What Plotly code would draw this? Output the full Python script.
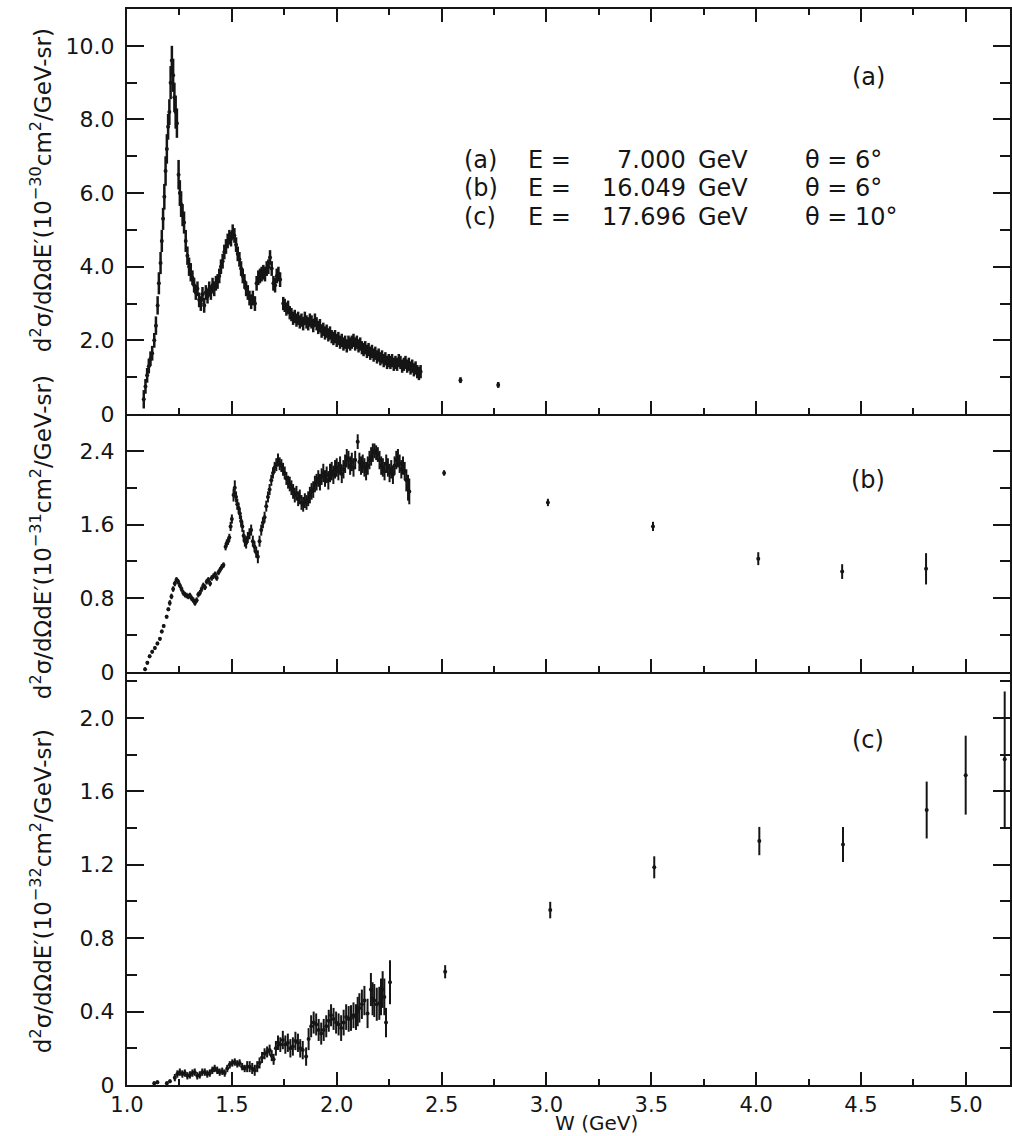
import plotly.graph_objects as go

# ---------------- data ----------------
# Panel (a): E = 7.000 GeV, theta = 6 deg, units 1e-30 cm^2/GeV-sr
W_a = [1.080, 1.088, 1.096, 1.104, 1.112, 1.120, 1.130, 1.138, 1.146, 1.152,
       1.160, 1.166, 1.172, 1.178, 1.184, 1.190, 1.196, 1.202, 1.208, 1.214,
       1.220, 1.226, 1.232, 1.238, 1.246, 1.252, 1.258, 1.265, 1.272, 1.280,
       1.288, 1.296, 1.304, 1.312, 1.320, 1.328, 1.336, 1.344, 1.352, 1.360,
       1.368, 1.376, 1.384, 1.392, 1.400, 1.408, 1.416, 1.424, 1.432, 1.440,
       1.448, 1.456, 1.464, 1.472, 1.480, 1.488, 1.496, 1.504, 1.512, 1.520,
       1.528, 1.536, 1.544, 1.552, 1.560, 1.568, 1.576, 1.584, 1.592, 1.600,
       1.610, 1.618, 1.626, 1.634, 1.642, 1.650, 1.658, 1.666, 1.674, 1.682,
       1.690, 1.698, 1.706, 1.714, 1.722, 1.730, 1.745, 1.752, 1.760, 1.768,
       1.776, 1.784, 1.792, 1.800, 1.808, 1.816, 1.824, 1.832, 1.840, 1.848,
       1.856, 1.864, 1.872, 1.880, 1.888, 1.896, 1.904, 1.912, 1.920, 1.928,
       1.936, 1.944, 1.952, 1.960, 1.968, 1.976, 1.984, 1.992, 2.000, 2.008,
       2.016, 2.024, 2.032, 2.040, 2.048, 2.056, 2.064, 2.072, 2.080, 2.088,
       2.096, 2.104, 2.112, 2.120, 2.128, 2.136, 2.144, 2.152, 2.160, 2.168,
       2.176, 2.184, 2.192, 2.200, 2.208, 2.216, 2.224, 2.232, 2.240, 2.248,
       2.256, 2.264, 2.272, 2.280, 2.288, 2.296, 2.304, 2.312, 2.320, 2.328,
       2.336, 2.344, 2.352, 2.360, 2.368, 2.376, 2.384, 2.392, 2.400, 2.590,
       2.770]
Y_a = [0.40, 0.75, 1.05, 1.30, 1.50, 1.65, 2.00, 2.40, 2.95, 3.55,
       4.10, 4.70, 5.30, 5.90, 6.60, 7.20, 7.80, 8.20, 9.00, 9.60,
       9.20, 8.60, 8.20, 7.90, 6.50, 6.00, 5.70, 5.40, 5.20, 4.70,
       4.30, 4.00, 3.85, 3.70, 3.50, 3.30, 3.40, 3.10, 3.00, 3.25,
       2.95, 3.30, 3.20, 3.40, 3.30, 3.50, 3.40, 3.55, 3.60, 3.75,
       4.00, 4.15, 4.40, 4.55, 4.70, 4.80, 4.75, 4.95, 4.85, 4.60,
       4.35, 4.20, 3.95, 3.75, 3.60, 3.40, 3.30, 3.15, 3.05, 3.15,
       3.00, 3.55, 3.70, 3.75, 3.80, 3.85, 3.80, 3.95, 4.00, 4.25,
       3.95, 3.55, 3.50, 3.75, 3.80, 3.65, 3.00, 2.95, 2.85, 2.90,
       2.75, 2.70, 2.60, 2.65, 2.55, 2.60, 2.50, 2.55, 2.45, 2.60,
       2.50, 2.45, 2.55, 2.50, 2.40, 2.55, 2.45, 2.35, 2.40, 2.25,
       2.30, 2.20, 2.25, 2.15, 2.20, 2.10, 2.05, 2.10, 2.00, 2.05,
       1.95, 2.00, 1.90, 1.95, 1.85, 1.95, 1.90, 1.95, 2.00, 1.90,
       1.95, 1.85, 1.90, 1.80, 1.75, 1.80, 1.70, 1.75, 1.65, 1.70,
       1.60, 1.65, 1.55, 1.60, 1.50, 1.55, 1.45, 1.50, 1.40, 1.45,
       1.40, 1.45, 1.35, 1.40, 1.35, 1.45, 1.40, 1.30, 1.35, 1.40,
       1.30, 1.35, 1.25, 1.30, 1.20, 1.25, 1.15, 1.10, 1.15, 0.92,
       0.79]
E_a = [0.25, 0.20, 0.20, 0.20, 0.20, 0.20, 0.20, 0.25, 0.25, 0.30,
       0.30, 0.30, 0.30, 0.35, 0.40, 0.40, 0.35, 0.35, 0.45, 0.40,
       0.45, 0.40, 0.45, 0.40, 0.40, 0.35, 0.35, 0.30, 0.30, 0.30,
       0.25, 0.25, 0.25, 0.20, 0.20, 0.20, 0.20, 0.20, 0.20, 0.20,
       0.20, 0.20, 0.20, 0.20, 0.20, 0.20, 0.20, 0.20, 0.20, 0.20,
       0.20, 0.20, 0.20, 0.20, 0.20, 0.20, 0.20, 0.20, 0.20, 0.20,
       0.20, 0.20, 0.20, 0.20, 0.20, 0.20, 0.20, 0.20, 0.20, 0.20,
       0.20, 0.20, 0.20, 0.20, 0.20, 0.20, 0.20, 0.20, 0.20, 0.20,
       0.20, 0.20, 0.20, 0.20, 0.20, 0.20, 0.18, 0.18, 0.18, 0.18,
       0.18, 0.18, 0.18, 0.18, 0.18, 0.18, 0.18, 0.18, 0.18, 0.18,
       0.18, 0.18, 0.18, 0.18, 0.18, 0.18, 0.18, 0.18, 0.18, 0.18,
       0.18, 0.18, 0.18, 0.18, 0.18, 0.18, 0.18, 0.18, 0.18, 0.18,
       0.18, 0.18, 0.18, 0.18, 0.18, 0.18, 0.18, 0.18, 0.18, 0.18,
       0.18, 0.18, 0.18, 0.18, 0.18, 0.18, 0.18, 0.18, 0.18, 0.18,
       0.18, 0.18, 0.18, 0.18, 0.18, 0.18, 0.18, 0.18, 0.18, 0.18,
       0.18, 0.18, 0.18, 0.18, 0.18, 0.18, 0.18, 0.18, 0.18, 0.18,
       0.18, 0.18, 0.18, 0.18, 0.18, 0.18, 0.18, 0.18, 0.18, 0.08,
       0.08]

# Panel (b): E = 16.049 GeV, theta = 6 deg, units 1e-31 cm^2/GeV-sr
W_b = [1.086, 1.097, 1.108, 1.120, 1.133, 1.145, 1.157, 1.166, 1.175, 1.189,
       1.197, 1.204, 1.212, 1.220, 1.228, 1.236, 1.244, 1.252, 1.260, 1.268,
       1.276, 1.284, 1.292, 1.300, 1.308, 1.316, 1.324, 1.332, 1.340, 1.348,
       1.356, 1.364, 1.372, 1.380, 1.388, 1.396, 1.404, 1.412, 1.420, 1.428,
       1.436, 1.444, 1.452, 1.460, 1.470, 1.476, 1.482, 1.488, 1.494, 1.500,
       1.508, 1.514, 1.520, 1.526, 1.532, 1.538, 1.544, 1.550, 1.556, 1.562,
       1.568, 1.576, 1.584, 1.592, 1.600, 1.608, 1.616, 1.624, 1.632, 1.640,
       1.648, 1.656, 1.664, 1.672, 1.680, 1.688, 1.696, 1.704, 1.712, 1.720,
       1.728, 1.736, 1.744, 1.752, 1.760, 1.768, 1.776, 1.784, 1.792, 1.800,
       1.808, 1.816, 1.824, 1.832, 1.840, 1.848, 1.856, 1.864, 1.872, 1.880,
       1.888, 1.896, 1.904, 1.912, 1.920, 1.928, 1.936, 1.944, 1.952, 1.960,
       1.968, 1.976, 1.984, 1.992, 2.000, 2.008, 2.016, 2.024, 2.032, 2.040,
       2.048, 2.056, 2.064, 2.072, 2.080, 2.088, 2.100, 2.108, 2.116, 2.124,
       2.132, 2.140, 2.148, 2.156, 2.164, 2.172, 2.180, 2.188, 2.196, 2.204,
       2.212, 2.220, 2.228, 2.236, 2.244, 2.252, 2.260, 2.268, 2.276, 2.284,
       2.292, 2.300, 2.308, 2.316, 2.324, 2.332, 2.340, 2.346, 2.512, 3.007,
       3.508, 4.010, 4.410, 4.810]
Y_b = [0.03, 0.10, 0.17, 0.22, 0.26, 0.31, 0.36, 0.44, 0.50, 0.60,
       0.68, 0.75, 0.82, 0.90, 0.96, 1.00, 0.98, 0.94, 0.90, 0.86,
       0.84, 0.83, 0.82, 0.83, 0.80, 0.78, 0.75, 0.78, 0.84, 0.86,
       0.90, 0.94, 0.92, 0.98, 1.00, 0.96, 1.02, 1.04, 1.06, 1.02,
       1.08, 1.11, 1.14, 1.16, 1.36, 1.40, 1.42, 1.46, 1.58, 1.66,
       1.92, 2.00, 1.90, 1.82, 1.78, 1.72, 1.64, 1.58, 1.48, 1.42,
       1.40, 1.46, 1.50, 1.54, 1.42, 1.36, 1.30, 1.25, 1.42, 1.54,
       1.62, 1.68, 1.80, 1.90, 1.98, 2.08, 2.16, 2.22, 2.25, 2.30,
       2.26, 2.24, 2.20, 2.16, 2.10, 2.06, 2.04, 2.00, 1.96, 1.92,
       1.94, 1.88, 1.90, 1.84, 1.82, 1.86, 1.84, 1.88, 1.92, 1.96,
       1.98, 2.04, 2.06, 2.10, 2.06, 2.12, 2.16, 2.10, 2.14, 2.08,
       2.16, 2.18, 2.14, 2.20, 2.22, 2.18, 2.24, 2.15, 2.20, 2.26,
       2.32, 2.30, 2.24, 2.28, 2.22, 2.30, 2.50, 2.28, 2.24, 2.26,
       2.22, 2.18, 2.24, 2.30, 2.34, 2.38, 2.40, 2.38, 2.36, 2.30,
       2.24, 2.22, 2.18, 2.26, 2.22, 2.16, 2.20, 2.14, 2.24, 2.30,
       2.32, 2.26, 2.20, 2.24, 2.18, 2.08, 2.00, 1.96, 2.16, 1.84,
       1.58, 1.23, 1.09, 1.12]
E_b = [0.02, 0.02, 0.02, 0.02, 0.02, 0.02, 0.02, 0.02, 0.02, 0.02,
       0.02, 0.03, 0.03, 0.03, 0.03, 0.03, 0.03, 0.03, 0.03, 0.03,
       0.03, 0.03, 0.03, 0.03, 0.03, 0.03, 0.03, 0.03, 0.03, 0.03,
       0.03, 0.03, 0.03, 0.03, 0.03, 0.03, 0.03, 0.03, 0.03, 0.03,
       0.03, 0.03, 0.03, 0.03, 0.04, 0.04, 0.04, 0.04, 0.05, 0.05,
       0.07, 0.08, 0.06, 0.06, 0.06, 0.06, 0.06, 0.06, 0.06, 0.06,
       0.06, 0.06, 0.06, 0.06, 0.06, 0.06, 0.06, 0.07, 0.06, 0.06,
       0.06, 0.06, 0.06, 0.06, 0.06, 0.06, 0.06, 0.06, 0.07, 0.07,
       0.07, 0.07, 0.07, 0.07, 0.07, 0.07, 0.08, 0.08, 0.08, 0.08,
       0.08, 0.08, 0.08, 0.08, 0.08, 0.08, 0.08, 0.08, 0.09, 0.09,
       0.09, 0.09, 0.09, 0.09, 0.09, 0.09, 0.10, 0.09, 0.09, 0.10,
       0.10, 0.10, 0.10, 0.10, 0.10, 0.10, 0.10, 0.10, 0.10, 0.10,
       0.10, 0.10, 0.10, 0.10, 0.10, 0.10, 0.08, 0.10, 0.10, 0.10,
       0.10, 0.10, 0.10, 0.10, 0.10, 0.10, 0.08, 0.08, 0.08, 0.10,
       0.10, 0.10, 0.10, 0.10, 0.10, 0.10, 0.10, 0.10, 0.10, 0.10,
       0.10, 0.10, 0.10, 0.10, 0.10, 0.12, 0.14, 0.14, 0.03, 0.04,
       0.05, 0.07, 0.08, 0.17]

# Panel (c): E = 17.696 GeV, theta = 10 deg, units 1e-32 cm^2/GeV-sr
W_c = [1.130, 1.145, 1.190, 1.205, 1.228, 1.240, 1.252, 1.264, 1.276, 1.288,
       1.300, 1.312, 1.323, 1.335, 1.347, 1.359, 1.371, 1.383, 1.395, 1.407,
       1.418, 1.430, 1.442, 1.454, 1.466, 1.478, 1.490, 1.502, 1.514, 1.526,
       1.537, 1.549, 1.561, 1.573, 1.585, 1.597, 1.609, 1.621, 1.632, 1.644,
       1.656, 1.668, 1.680, 1.690, 1.699, 1.710, 1.720, 1.731, 1.743, 1.755,
       1.767, 1.779, 1.791, 1.803, 1.815, 1.826, 1.838, 1.854, 1.866, 1.878,
       1.890, 1.902, 1.914, 1.926, 1.938, 1.950, 1.962, 1.973, 1.985, 1.997,
       2.009, 2.021, 2.033, 2.045, 2.057, 2.068, 2.080, 2.092, 2.100, 2.108,
       2.120, 2.132, 2.147, 2.163, 2.171, 2.179, 2.191, 2.203, 2.211, 2.219,
       2.227, 2.235, 2.254, 2.517, 3.018, 3.514, 4.015, 4.414, 4.813, 4.999,
       5.185]
Y_c = [0.010, 0.015, 0.010, 0.020, 0.040, 0.060, 0.070, 0.060, 0.065, 0.050,
       0.055, 0.065, 0.070, 0.050, 0.055, 0.070, 0.070, 0.060, 0.065, 0.080,
       0.090, 0.080, 0.070, 0.075, 0.065, 0.090, 0.110, 0.120, 0.125, 0.115,
       0.120, 0.100, 0.090, 0.100, 0.100, 0.090, 0.080, 0.100, 0.120, 0.150,
       0.170, 0.180, 0.190, 0.160, 0.140, 0.200, 0.230, 0.220, 0.245, 0.220,
       0.230, 0.200, 0.210, 0.240, 0.230, 0.200, 0.190, 0.155, 0.250, 0.320,
       0.340, 0.330, 0.300, 0.280, 0.300, 0.320, 0.350, 0.380, 0.360, 0.340,
       0.330, 0.310, 0.340, 0.370, 0.360, 0.365, 0.380, 0.370, 0.400, 0.420,
       0.440, 0.460, 0.390, 0.520, 0.470, 0.460, 0.440, 0.445, 0.480, 0.520,
       0.480, 0.340, 0.560, 0.617, 0.953, 1.186, 1.329, 1.310, 1.498, 1.688,
       1.774]
E_c = [0.010, 0.010, 0.010, 0.010, 0.020, 0.020, 0.020, 0.020, 0.020, 0.020,
       0.020, 0.020, 0.020, 0.020, 0.020, 0.020, 0.020, 0.020, 0.020, 0.020,
       0.020, 0.020, 0.020, 0.020, 0.020, 0.020, 0.020, 0.020, 0.020, 0.020,
       0.020, 0.020, 0.020, 0.030, 0.030, 0.030, 0.030, 0.030, 0.030, 0.030,
       0.030, 0.030, 0.030, 0.030, 0.030, 0.040, 0.040, 0.040, 0.050, 0.050,
       0.050, 0.050, 0.050, 0.050, 0.050, 0.050, 0.050, 0.050, 0.060, 0.060,
       0.060, 0.060, 0.060, 0.060, 0.060, 0.060, 0.060, 0.060, 0.060, 0.060,
       0.060, 0.070, 0.070, 0.070, 0.070, 0.070, 0.070, 0.070, 0.080, 0.080,
       0.080, 0.080, 0.080, 0.090, 0.090, 0.090, 0.090, 0.090, 0.100, 0.100,
       0.100, 0.080, 0.120, 0.036, 0.045, 0.060, 0.077, 0.095, 0.155, 0.215,
       0.370]

# tick labels
X_TICKS = [1.0, 1.5, 2.0, 2.5, 3.0, 3.5, 4.0, 4.5, 5.0]
X_TICKTEXT = ["1.0", "1.5", "2.0", "2.5", "3.0", "3.5", "4.0", "4.5", "5.0"]
YA_TICKS = [0, 2, 4, 6, 8, 10]
YA_TICKTEXT = ["0", "2.0", "4.0", "6.0", "8.0", "10.0"]
YB_TICKS = [0, 0.8, 1.6, 2.4]
YB_TICKTEXT = ["0", "0.8", "1.6", "2.4"]
YC_TICKS = [0, 0.4, 0.8, 1.2, 1.6, 2.0]
YC_TICKTEXT = ["0", "0.4", "0.8", "1.2", "1.6", "2.0"]

Y_TITLES = [
    "d<sup>2</sup>σ/dΩdE′(10<sup>−30</sup>cm<sup>2</sup>/GeV-sr)",
    "d<sup>2</sup>σ/dΩdE′(10<sup>−31</sup>cm<sup>2</sup>/GeV-sr)",
    "d<sup>2</sup>σ/dΩdE′(10<sup>−32</sup>cm<sup>2</sup>/GeV-sr)",
]
LEG_TAGS = ["(a)", "(b)", "(c)"]
LEG_E = ["7.000", "16.049", "17.696"]
LEG_THETA = ["θ = 6°", "θ = 6°", "θ = 10°"]
X_TITLE = "W (GeV)"

# ---------------- layout geometry ----------------
FW, FH = 1012, 1136
L, R, T, B = 127, 1012, 9, 1085
Y_AB, Y_BC = 414, 672
FONT = "DejaVu Sans"
INK = "#151515"


def px_x(px):
    return (px - L) / (R - L)


def px_y(py):
    return (B - py) / (B - T)


dom_c = [0, px_y(Y_BC)]
dom_b = [px_y(Y_BC), px_y(Y_AB)]
dom_a = [px_y(Y_AB), 1]

fig = go.Figure()


def add_panel(W, Y, E, xa, ya, thick):
    fig.add_trace(go.Scatter(
        x=W, y=Y, mode="markers", xaxis=xa, yaxis=ya,
        marker=dict(color=INK, size=4, symbol="circle"),
        error_y=dict(type="data", array=E, visible=True, color=INK,
                     thickness=thick, width=0),
        showlegend=False, hoverinfo="skip"))


add_panel(W_a, Y_a, E_a, "x3", "y3", 2.5)
add_panel(W_b, Y_b, E_b, "x2", "y2", 2)
add_panel(W_c, Y_c, E_c, "x", "y", 2)

XR = [1.0, 1.0 + (R - L) / 210.2]

xbase = dict(range=XR, showline=True, linewidth=2, linecolor=INK,
             ticks="inside", ticklen=13, tickwidth=2, tickcolor=INK,
             tickvals=X_TICKS, ticktext=X_TICKTEXT, showgrid=False,
             zeroline=False,
             minor=dict(ticks="inside", ticklen=6, tickwidth=2, tickcolor=INK,
                        tick0=1.25, dtick=0.5, showgrid=False),
             tickfont=dict(family=FONT, size=21, color=INK))

ybase = dict(showline=True, linewidth=2, linecolor=INK, mirror="ticks",
             ticks="inside", ticklen=17, tickwidth=2, tickcolor=INK,
             showgrid=False, zeroline=False, ticklabelstandoff=6,
             tickfont=dict(family=FONT, size=22, color=INK))

fig.update_layout(
    width=FW, height=FH, autosize=False,
    margin=dict(l=L, r=FW - R, t=T, b=FH - B, pad=0),
    paper_bgcolor="white", plot_bgcolor="white",
    font=dict(family=FONT, color=INK),
    xaxis=dict(xbase, anchor="y", domain=[0, 1], ticklabelstandoff=0),
    xaxis2=dict(xbase, anchor="y2", domain=[0, 1], showticklabels=False,
                matches="x"),
    xaxis3=dict(xbase, anchor="y3", domain=[0, 1], showticklabels=False,
                matches="x", mirror="ticks"),
    yaxis=dict(ybase, anchor="x", domain=dom_c, range=[0, 2.25],
               tickvals=YC_TICKS, ticktext=YC_TICKTEXT,
               minor=dict(ticks="inside", ticklen=10, tickwidth=2,
                          tickcolor=INK, tick0=0.2, dtick=0.4)),
    yaxis2=dict(ybase, anchor="x2", domain=dom_b, range=[0, 2.8],
                tickvals=YB_TICKS, ticktext=YB_TICKTEXT,
                minor=dict(ticks="inside", ticklen=10, tickwidth=2,
                           tickcolor=INK, tick0=0.4, dtick=0.8)),
    yaxis3=dict(ybase, anchor="x3", domain=dom_a, range=[0, 11.0],
                tickvals=YA_TICKS, ticktext=YA_TICKTEXT,
                minor=dict(ticks="inside", ticklen=10, tickwidth=2,
                           tickcolor=INK, tick0=1, dtick=2)),
)

ann = []
# rotated y-axis titles
for title, cy in zip(Y_TITLES, [190, 537, 891]):
    ann.append(dict(text=title, xref="paper", yref="paper",
                    x=px_x(41), y=px_y(cy), xanchor="center", yanchor="middle",
                    textangle=-90, showarrow=False,
                    font=dict(family=FONT, size=23, color=INK)))
# panel tags
for tag, cy in zip(LEG_TAGS, [77, 480, 740]):
    ann.append(dict(text=tag, xref="paper", yref="paper",
                    x=px_x(870), y=px_y(cy), xanchor="center",
                    yanchor="middle", showarrow=False,
                    font=dict(family=FONT, size=24, color=INK)))
# legend block
for i, cy in enumerate([160, 188, 217]):
    for text, px, anchor in [(LEG_TAGS[i], 463, "left"), ("E =", 527, "left"),
                             (LEG_E[i], 689, "right"), ("GeV", 697, "left"),
                             (LEG_THETA[i], 805, "left")]:
        ann.append(dict(text=text, xref="paper", yref="paper",
                        x=px_x(px), y=px_y(cy), xanchor=anchor,
                        yanchor="middle", showarrow=False,
                        font=dict(family=FONT, size=24, color=INK)))
# x-axis title (the original is cut by the bottom edge; kept fully visible,
# nudged between the 3.0 and 3.5 labels so it does not collide with them)
ann.append(dict(text=X_TITLE, xref="paper", yref="paper",
                x=px_x(598), y=px_y(1136), xanchor="center", yanchor="bottom",
                showarrow=False, borderpad=0,
                font=dict(family=FONT, size=20, color=INK)))

fig.update_layout(annotations=ann)

fig.write_html("out.html", include_plotlyjs=True)
